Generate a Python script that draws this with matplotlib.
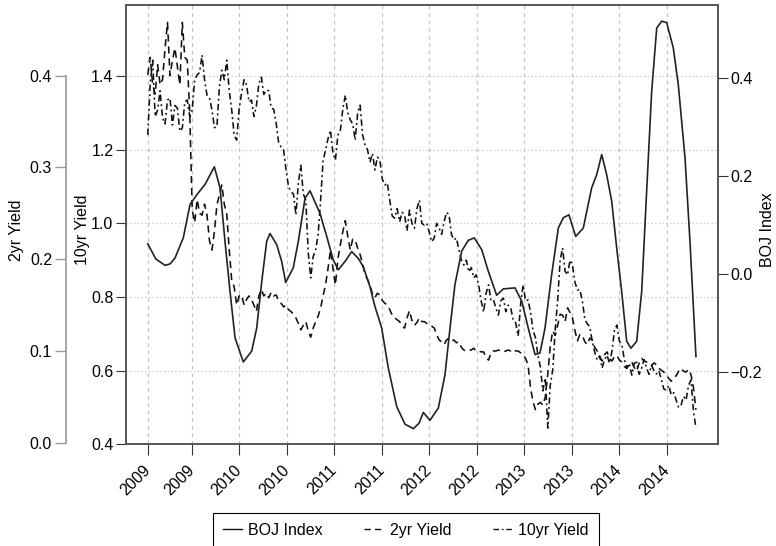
#!/usr/bin/env python3

import numpy as np
import matplotlib
matplotlib.use("Agg")
import matplotlib.pyplot as plt
from matplotlib.lines import Line2D

# x axis: decimal years, ticks every half year
tick_pos = [2009.035, 2009.5, 2010.0, 2010.5, 2011.0, 2011.5,
            2012.0, 2012.5, 2013.0, 2013.5, 2014.0, 2014.5]
tick_labels = ["2009", "2009", "2010", "2010", "2011", "2011",
               "2012", "2012", "2013", "2013", "2014", "2014"]

# yields are sampled on a regular date grid (about every 9 days)
yield_start = 2009.035
yield_end = 2014.806

ten_yr = [1.240, 1.38, 1.443, 1.29, 1.308, 1.36, 1.286, 1.27, 1.335, 1.34,
          1.267, 1.32, 1.313, 1.25, 1.259, 1.33, 1.335, 1.29, 1.308, 1.39,
          1.403, 1.41, 1.457, 1.39, 1.348, 1.34, 1.308, 1.26, 1.262, 1.37,
          1.416, 1.39, 1.443, 1.36, 1.308, 1.24, 1.226, 1.31, 1.354, 1.39,
          1.376, 1.33, 1.335, 1.29, 1.319, 1.38, 1.397, 1.35, 1.362, 1.36,
          1.313, 1.31, 1.272, 1.22, 1.207, 1.20, 1.145, 1.10, 1.085, 1.08,
          1.023, 1.11, 1.158, 1.08, 1.063, 0.92, 0.852, 0.91, 0.928, 0.97,
          1.063, 1.17, 1.199, 1.23, 1.253, 1.19, 1.172, 1.24, 1.253, 1.31,
          1.348, 1.30, 1.281, 1.27, 1.226, 1.30, 1.321, 1.24, 1.213, 1.20,
          1.166, 1.19, 1.145, 1.18, 1.172, 1.12, 1.104, 1.11, 1.063, 1.02,
          1.014, 1.04, 1.004, 1.03, 1.023, 0.98, 1.036, 1.00, 0.987, 1.04,
          1.063, 1.00, 0.995, 1.00, 0.976, 0.95, 0.960, 1.00, 0.987, 0.97,
          1.004, 1.03, 1.023, 0.97, 0.955, 0.96, 0.928, 0.90, 0.887, 0.90,
          0.868, 0.88, 0.852, 0.86, 0.833, 0.79, 0.759, 0.81, 0.833, 0.79,
          0.792, 0.77, 0.751, 0.79, 0.797, 0.76, 0.778, 0.77, 0.737, 0.73,
          0.694, 0.78, 0.833, 0.79, 0.792, 0.76, 0.710, 0.69, 0.642, 0.61,
          0.545, 0.58, 0.444, 0.56, 0.602, 0.71, 0.792, 0.90, 0.933, 0.87,
          0.860, 0.90, 0.887, 0.84, 0.819, 0.82, 0.789, 0.74, 0.727, 0.72,
          0.680, 0.65, 0.629, 0.64, 0.607, 0.63, 0.642, 0.62, 0.653, 0.71,
          0.724, 0.68, 0.670, 0.63, 0.607, 0.62, 0.588, 0.62, 0.623, 0.59,
          0.607, 0.63, 0.607, 0.59, 0.615, 0.60, 0.591, 0.60, 0.575, 0.55,
          0.547, 0.56, 0.534, 0.54, 0.520, 0.50, 0.507, 0.53, 0.520, 0.56,
          0.575, 0.49, 0.444]

two_yr = [0.401, 0.42, 0.390, 0.38, 0.412, 0.39, 0.396, 0.43, 0.458, 0.40,
          0.417, 0.43, 0.410, 0.39, 0.458, 0.42, 0.417, 0.36, 0.254, 0.24,
          0.265, 0.25, 0.248, 0.26, 0.248, 0.22, 0.210, 0.23, 0.259, 0.27,
          0.281, 0.26, 0.249, 0.21, 0.177, 0.17, 0.150, 0.16, 0.161, 0.15,
          0.156, 0.16, 0.156, 0.15, 0.143, 0.16, 0.167, 0.160, 0.163, 0.158,
          0.164, 0.160, 0.161, 0.155, 0.152, 0.148, 0.150, 0.145, 0.143, 0.140,
          0.136, 0.130, 0.123, 0.128, 0.132, 0.122, 0.115, 0.125, 0.132, 0.138,
          0.147, 0.16, 0.172, 0.19, 0.210, 0.19, 0.172, 0.20, 0.216, 0.23,
          0.242, 0.225, 0.210, 0.222, 0.221, 0.212, 0.205, 0.195, 0.183, 0.178,
          0.172, 0.162, 0.158, 0.163, 0.161, 0.155, 0.152, 0.150, 0.145, 0.139,
          0.136, 0.134, 0.132, 0.127, 0.125, 0.136, 0.144, 0.133, 0.128, 0.131,
          0.136, 0.132, 0.132, 0.130, 0.128, 0.127, 0.125, 0.118, 0.112, 0.110,
          0.107, 0.112, 0.114, 0.111, 0.112, 0.109, 0.110, 0.104, 0.101, 0.100,
          0.101, 0.101, 0.103, 0.100, 0.100, 0.099, 0.099, 0.093, 0.090, 0.098,
          0.100, 0.100, 0.101, 0.100, 0.099, 0.100, 0.101, 0.100, 0.102, 0.100,
          0.100, 0.098, 0.096, 0.092, 0.085, 0.060, 0.045, 0.036, 0.042, 0.044,
          0.041, 0.050, 0.075, 0.105, 0.122, 0.117, 0.128, 0.140, 0.139, 0.132,
          0.147, 0.142, 0.136, 0.122, 0.111, 0.118, 0.117, 0.110, 0.107, 0.114,
          0.112, 0.104, 0.100, 0.094, 0.089, 0.096, 0.099, 0.092, 0.089, 0.094,
          0.095, 0.090, 0.088, 0.083, 0.081, 0.086, 0.088, 0.082, 0.078, 0.087,
          0.092, 0.089, 0.088, 0.085, 0.084, 0.087, 0.085, 0.081, 0.079, 0.077,
          0.074, 0.070, 0.067, 0.071, 0.073, 0.078, 0.081, 0.078, 0.077, 0.080,
          0.074, 0.060, 0.036]

boj_dates = [2009.035, 2009.12, 2009.217, 2009.27, 2009.322, 2009.409, 2009.480,
             2009.551, 2009.638, 2009.736, 2009.796, 2009.848, 2009.901, 2009.954,
             2010.041, 2010.129, 2010.182, 2010.235, 2010.287, 2010.322, 2010.393,
             2010.445, 2010.487, 2010.567, 2010.620, 2010.691, 2010.743, 2010.848,
             2010.919, 2010.988, 2011.041, 2011.112, 2011.182, 2011.252, 2011.304,
             2011.375, 2011.427, 2011.498, 2011.567, 2011.656, 2011.743, 2011.831,
             2011.891, 2011.936, 2012.006, 2012.094, 2012.164, 2012.217, 2012.269,
             2012.340, 2012.409, 2012.473, 2012.551, 2012.620, 2012.708, 2012.778,
             2012.901, 2012.972, 2013.041, 2013.112, 2013.164, 2013.217, 2013.287,
             2013.357, 2013.409, 2013.469, 2013.540, 2013.620, 2013.708, 2013.761,
             2013.814, 2013.866, 2013.919, 2013.972, 2014.024, 2014.077, 2014.122,
             2014.182, 2014.235, 2014.287, 2014.340, 2014.393, 2014.445, 2014.498,
             2014.567, 2014.620, 2014.691, 2014.743, 2014.806]
boj = [0.061, 0.030, 0.017, 0.020, 0.032, 0.073, 0.141, 0.161, 0.182, 0.218,
       0.175, 0.066, -0.036, -0.131, -0.180, -0.158, -0.111, -0.016, 0.066, 0.082,
       0.059, 0.025, -0.018, 0.012, 0.066, 0.154, 0.169, 0.123, 0.076, 0.028,
       0.008, 0.025, 0.045, 0.031, 0.014, -0.027, -0.067, -0.111, -0.192, -0.271,
       -0.307, -0.316, -0.305, -0.283, -0.299, -0.274, -0.206, -0.111, -0.022, 0.046,
       0.068, 0.073, 0.049, 0.005, -0.044, -0.031, -0.029, -0.056, -0.111, -0.165,
       -0.162, -0.111, -0.002, 0.093, 0.114, 0.120, 0.076, 0.093, 0.175, 0.202,
       0.243, 0.202, 0.148, 0.052, -0.036, -0.138, -0.152, -0.138, -0.036, 0.168,
       0.372, 0.501, 0.515, 0.512, 0.461, 0.386, 0.236, 0.066, -0.169]

ten_ticks = [0.4, 0.6, 0.8, 1.0, 1.2, 1.4]
two_ticks = [0.0, 0.1, 0.2, 0.3, 0.4]
boj_ticks = [-0.2, 0.0, 0.2, 0.4]

W, H = 776, 546
LINE = "#111111"
GRID = "#c4c4c4"
SOLID = "-"
DASHED = (0, (4.5, 3))
DASHDOT = (0, (4, 2, 1.2, 2))


def main():
    plt.rcParams["font.family"] = ["Liberation Sans", "DejaVu Sans"]
    plt.rcParams["font.size"] = 11.5

    fig = plt.figure(figsize=(W / 100, H / 100), dpi=100)
    left, right, top, bottom = 126, 717.7, 5, 444.3
    ax = fig.add_axes([left / W, 1 - bottom / H, (right - left) / W, (bottom - top) / H])

    dates = np.linspace(yield_start, yield_end, len(ten_yr))

    # 10yr on the inner left axis
    ax.plot(dates, ten_yr, color=LINE, lw=1.15, linestyle=DASHDOT, zorder=3)
    ax.set_xlim(2008.806, 2015.035)
    ax.set_ylim(0.4, 1.593)
    ax.set_yticks(ten_ticks)
    ax.set_xticks(tick_pos)
    ax.set_xticklabels(tick_labels, rotation=45, ha="right", va="center",
                       rotation_mode="anchor")
    ax.grid(axis="y", color=GRID, linestyle=(0, (1, 2)), lw=0.9)
    ax.grid(axis="x", color=GRID, linestyle=(0, (3, 3)), lw=0.9)
    ax.set_axisbelow(True)
    for s in ax.spines.values():
        s.set_color("#555555")
        s.set_linewidth(1.4)
    ax.tick_params(axis="y", length=7, width=0.8, pad=2, color="#333333")
    ax.tick_params(axis="x", length=8, width=0.8, pad=9, color="#333333")

    # 2yr on an outer left axis
    ax2 = ax.twinx()
    ax2.plot(dates, two_yr, color=LINE, lw=1.15, linestyle=DASHED)
    ax2.set_ylim(-0.0017, 0.477)
    ax2.set_yticks(two_ticks)
    for name in ["right", "top", "bottom"]:
        ax2.spines[name].set_visible(False)
    ax2.spines["left"].set_visible(True)
    ax2.spines["left"].set_position(("outward", 43.2))
    ax2.spines["left"].set_bounds(0, 0.4)
    ax2.spines["left"].set_color("#9a9a9a")
    ax2.spines["left"].set_linewidth(1.2)
    ax2.yaxis.set_ticks_position("left")
    ax2.tick_params(axis="y", length=8, width=1.0, pad=2, color="#9a9a9a",
                    labelcolor="black")

    # BOJ index on the right
    ax3 = ax.twinx()
    ax3.plot(boj_dates, boj, color="#222222", lw=1.2, linestyle=SOLID)
    ax3.set_ylim(-0.348, 0.548)
    ax3.set_yticks(boj_ticks)
    for s in ax3.spines.values():
        s.set_visible(False)
    ax3.tick_params(axis="y", length=7, width=0.8, pad=2, color="#333333")

    fig.text(16 / W, 1 - 230 / H, "2yr Yield", rotation=90, ha="center", va="center")
    fig.text(82 / W, 1 - 230 / H, "10yr Yield", rotation=90, ha="center", va="center")
    fig.text(767 / W, 1 - 230 / H, "BOJ Index", rotation=90, ha="center", va="center")

    handles = [Line2D([], [], color=LINE, lw=1.0, linestyle=SOLID),
               Line2D([], [], color=LINE, lw=1.0, linestyle=DASHED),
               Line2D([], [], color=LINE, lw=1.0, linestyle=DASHDOT)]
    leg = fig.legend(handles, ["BOJ Index", "2yr Yield", "10yr Yield"],
                     loc="upper left", bbox_to_anchor=(213 / W, 1 - 513 / H),
                     ncol=3, frameon=True, fancybox=False, edgecolor="black",
                     framealpha=1, handlelength=1.2, handletextpad=0.4,
                     columnspacing=2.6, borderpad=0.6, borderaxespad=0)
    leg.get_frame().set_linewidth(0.8)

    fig.savefig("out.png", dpi=100)


if __name__ == "__main__":
    main()
